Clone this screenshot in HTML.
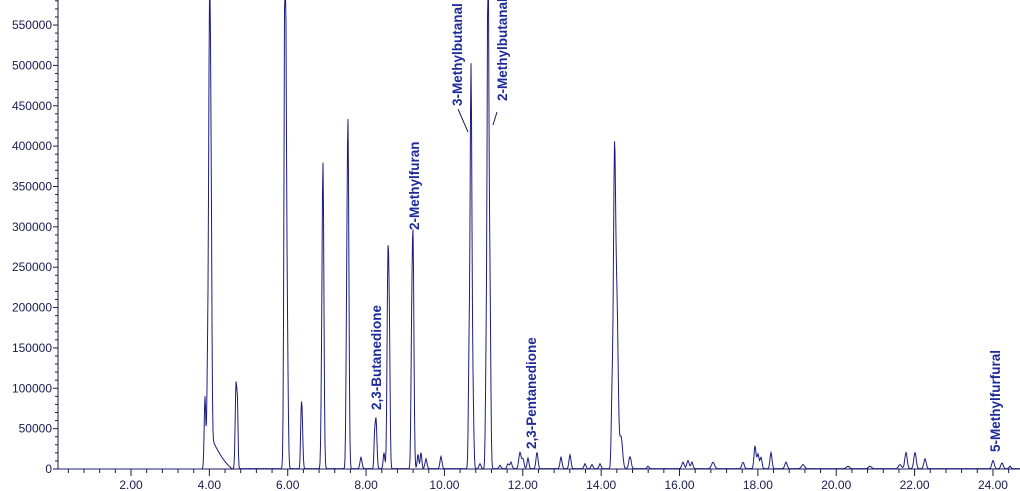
<!DOCTYPE html>
<html><head><meta charset="utf-8"><style>
html,body{margin:0;padding:0;background:#fff;}
svg{display:block;}
text{font-family:"Liberation Sans",Arial,sans-serif;}
.yl{font-size:12px;fill:#1a1a50;text-anchor:end;}
.xl{font-size:12px;fill:#1a1a50;text-anchor:middle;}
.lb{font-size:13.5px;font-weight:bold;fill:#1c2a9c;}
</style></head><body>
<svg id="s" width="1020" height="491" viewBox="0 0 1020 491" xmlns="http://www.w3.org/2000/svg">
<g id="axes" stroke="#1a1a50" stroke-width="1" fill="none"></g>
<g id="ylab"></g>
<g id="xlab"></g>
<path id="trace" fill="none" stroke="#1c1c80" stroke-width="1"/>
<g class="lb">
<text transform="translate(381,410) rotate(-90)">2,3-Butanedione</text>
<text transform="translate(419,230) rotate(-90)">2-Methylfuran</text>
<text transform="translate(462,106) rotate(-90)">3-Methylbutanal</text>
<text transform="translate(507,101) rotate(-90)">2-Methylbutanal</text>
<text transform="translate(536,449) rotate(-90)">2,3-Pentanedione</text>
<text transform="translate(1000,452) rotate(-90)">5-Methylfurfural</text>
</g>
<g stroke="#1a1a50" stroke-width="1">
<line x1="458" y1="109" x2="468" y2="132"/>
<line x1="497" y1="112" x2="493" y2="125"/>
</g>
</svg>
<script>
var NS="http://www.w3.org/2000/svg";
var y0=469, ppu=40.36/50000;
function Y(v){return y0-v*ppu;}
var ax=document.getElementById('axes'), yl=document.getElementById('ylab'), xl=document.getElementById('xlab');
function el(t,a,p){var e=document.createElementNS(NS,t);for(var k in a)e.setAttribute(k,a[k]);p.appendChild(e);return e;}
el('line',{x1:58,y1:0,x2:58,y2:469},ax);
el('line',{x1:58,y1:469,x2:1020,y2:469},ax);
for(var v=0;v<=580000;v+=10000){var y=Y(v);if(y<0)break;var big=v%50000==0;el('line',{x1:big?53:55,y1:y,x2:58,y2:y},ax);
 if(big){var t=el('text',{x:52,y:y+4,'class':'yl'},yl);t.textContent=String(v);}}
function X(t){return 131+(t-2)*39.18;}
for(var t=0.4;t<=25;t+=0.4){var x=X(t);if(x<58||x>1020)continue;var big=Math.abs(Math.round(t/2)*2-t)<0.01;el('line',{x1:x,y1:469,x2:x,y2:big?476:473},ax);
 if(big){var tt=el('text',{x:x,y:489,'class':'xl'},xl);tt.textContent=t.toFixed(2);}}
var P=[[205,90000,0.8],[207.5,110000,0.7],[209.5,548000,0.9],[211,290000,0.8],[236,105000,0.8],[237.5,70000,0.6],
[285.5,558000,1],[284.5,230000,0.8],[287.5,120000,0.8],[302,67000,0.8],[301,40000,0.6],[323,373000,0.9],[321.5,60000,0.7],
[348,422000,0.9],[346.5,110000,0.7],[361,14000,1],[376,62000,0.9],[374.5,30000,0.6],[384,20000,0.8],[388,265000,0.9],[389.5,120000,0.7],
[413,285000,0.9],[411.5,110000,0.7],[418,18000,0.8],[421,20000,0.8],[426,12000,1],[441,15000,1],[469,120000,0.7],[471,497000,0.9],[473,80000,0.8],
[480,6000,1],[486,100000,0.7],[488,640000,0.9],[490,200000,0.8],[500,4000,1],[508,6000,1],[511,8000,1],[520,20000,1.2],[523,12000,1],[528,13000,0.9],[537,20000,1],
[561,14000,1],[570,17000,1],[585,6000,1],[592,5000,1],[600,6000,1],[612,80000,0.8],[614.5,383000,1.1],[617,190000,1.2],[621,40000,1.5],[630,15000,1.2],
[648,3000,1],[683,8000,1.2],[688,10000,1.2],[692,8000,1],[713,8000,1.5],[743,8000,1.2],[755,28000,1],[758,18000,1],[761,14000,1],[771,20000,1],[786,8000,1.2],[803,5000,1.5],
[848,3000,1.5],[870,3000,1.5],[900,5000,1.5],[906,20000,1.2],[915,20000,1.2],[925,12000,1.2],[993,10000,1.2],[1002,7000,1.2],[1010,3000,1]];
var d='';
for(var x=58;x<=1020;x+=0.5){var v=0;
 for(var i=0;i<P.length;i++){var dx=(x-P[i][0])/P[i][2];if(Math.abs(dx)<6)v+=P[i][1]*Math.exp(-dx*dx/2);}
 if(x>211&&x<232){var f=(232-x)/21;v+=40000*f*f*0.5+20000*f;}
 if(x>=205)v+=600*Math.abs(Math.sin(x*1.7));
 var y=Math.max(-5,Y(v));
 d+=(d?'L':'M')+x.toFixed(1)+','+y.toFixed(1);}
document.getElementById('trace').setAttribute('d',d);
</script>
</body></html>
